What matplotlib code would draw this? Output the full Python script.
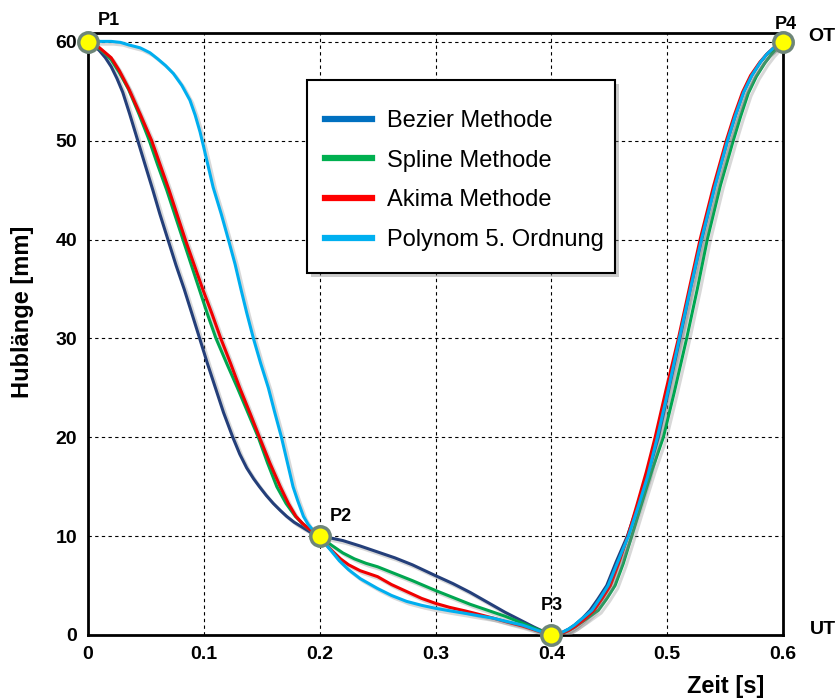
import matplotlib
matplotlib.use("Agg")
from matplotlib import pyplot as plt
from matplotlib.lines import Line2D
from matplotlib.patches import Rectangle
import matplotlib.patheffects as pe

plt.rcParams['font.family'] = ['Liberation Sans', 'DejaVu Sans']

# Stützpunkte P1..P4
punkte_x = [0.0, 0.2, 0.4, 0.6]
punkte_y = [60, 10, 0, 60]
punkte_namen = ['P1', 'P2', 'P3', 'P4']

# Bezier Methode
bezier_x = [0, 0.005, 0.01, 0.015, 0.02, 0.025, 0.03, 0.036, 0.043, 0.05, 0.056, 0.062, 0.069, 0.076, 0.083,
            0.09, 0.0964, 0.103, 0.11, 0.117, 0.125, 0.131, 0.137, 0.143, 0.148, 0.154, 0.16, 0.166, 0.1715,
            0.178, 0.185, 0.192, 0.2,
            0.21, 0.22, 0.235, 0.25, 0.265, 0.28, 0.3, 0.315, 0.33, 0.345, 0.36, 0.375, 0.385, 0.395, 0.4,
            0.405, 0.41, 0.415, 0.42, 0.427, 0.4334, 0.44, 0.4478, 0.456, 0.4656, 0.474, 0.483, 0.4924, 0.501,
            0.511, 0.52, 0.5298, 0.541, 0.552, 0.559, 0.5658, 0.573, 0.5802, 0.586, 0.592, 0.6]
bezier_y = [60, 59.7, 59.1, 58.4, 57.5, 56.3, 54.9, 52.7, 50, 47.3, 45, 42.6, 40, 37.4, 35,
            32.4, 30, 27.5, 25, 22.5, 20, 18.3, 16.9, 15.8, 15, 14.1, 13.3, 12.6, 12,
            11.4, 10.9, 10.4, 10,
            9.8, 9.55, 9.0, 8.4, 7.8, 7.1, 6.0, 5.2, 4.3, 3.3, 2.3, 1.4, 0.8, 0.25, 0,
            0.08, 0.3, 0.6, 1.0, 1.7, 2.5, 3.6, 5, 7.4, 10, 12.9, 16.1, 20, 24.6,
            30, 35, 40, 45.4, 50, 52.6, 54.9, 56.6, 57.9, 58.75, 59.4, 60]

# Spline Methode
spline_x = [0, 0.005, 0.01, 0.015, 0.02, 0.027, 0.035, 0.044, 0.053, 0.06, 0.068, 0.075, 0.082, 0.089, 0.096,
            0.103, 0.1105, 0.12, 0.129, 0.138, 0.147, 0.155, 0.163, 0.171, 0.179, 0.185, 0.19, 0.195, 0.2,
            0.21, 0.22, 0.23, 0.24, 0.25, 0.265, 0.28, 0.3, 0.315, 0.33, 0.345, 0.36, 0.375, 0.385, 0.395, 0.4,
            0.405, 0.41, 0.415, 0.42, 0.43, 0.4406, 0.448, 0.455, 0.462, 0.4694, 0.478, 0.487, 0.4967, 0.506,
            0.5168, 0.526, 0.5346, 0.546, 0.557, 0.5635, 0.570, 0.577, 0.5845, 0.59, 0.595, 0.6]
spline_y = [60, 59.8, 59.3, 58.8, 58.2, 56.9, 55.2, 52.7, 50, 47.6, 45, 42.5, 40, 37.5, 35,
            32.5, 30, 27.4, 25, 22.5, 20, 17.4, 15, 13.3, 12, 11.3, 10.8, 10.4, 10,
            9.1, 8.3, 7.7, 7.25, 6.9, 6.2, 5.5, 4.5, 3.8, 3.1, 2.5, 1.9, 1.2, 0.7, 0.25, 0,
            0.05, 0.2, 0.45, 0.8, 1.6, 2.5, 3.7, 5, 7.2, 10, 13.3, 16.7, 20, 24.5,
            30, 35, 40, 45.5, 50, 52.5, 54.8, 56.5, 57.9, 58.75, 59.4, 60]

# Akima Methode
akima_x = [0, 0.005, 0.01, 0.015, 0.02, 0.027, 0.035, 0.045, 0.055, 0.0625, 0.07, 0.077, 0.084, 0.0915, 0.099,
           0.107, 0.1146, 0.123, 0.131, 0.14, 0.148, 0.157, 0.166, 0.173, 0.1795, 0.185, 0.19, 0.195, 0.2,
           0.205, 0.21, 0.218, 0.225, 0.235, 0.25, 0.262, 0.275, 0.288, 0.3, 0.312, 0.325, 0.337, 0.35, 0.362,
           0.375, 0.387, 0.395, 0.4,
           0.405, 0.41, 0.415, 0.42, 0.428, 0.437, 0.444, 0.451, 0.458, 0.466, 0.474, 0.482, 0.4896, 0.499,
           0.5097, 0.519, 0.5284, 0.54, 0.551, 0.558, 0.565, 0.572, 0.58, 0.586, 0.592, 0.6]
akima_y = [60, 59.8, 59.4, 58.9, 58.4, 57.1, 55.3, 52.7, 50, 47.5, 45, 42.5, 40, 37.5, 35,
           32.5, 30, 27.5, 25, 22.4, 20, 17.4, 15, 13.3, 12, 11.3, 10.8, 10.4, 10,
           9.2, 8.6, 7.7, 7.1, 6.5, 5.9, 5.1, 4.4, 3.7, 3.2, 2.8, 2.45, 2.1, 1.7, 1.3,
           0.9, 0.45, 0.15, 0,
           0.05, 0.2, 0.45, 0.8, 1.5, 2.5, 3.7, 5, 7.2, 10, 13.2, 16.5, 20, 24.8,
           30, 35, 40, 45.4, 50, 52.6, 54.9, 56.6, 57.95, 58.75, 59.4, 60]

# Polynom 5. Ordnung
poly_x = [0, 0.01, 0.02, 0.028, 0.035, 0.045, 0.0535, 0.06, 0.067, 0.0737, 0.081, 0.088, 0.0925, 0.0967, 0.1,
          0.104, 0.108, 0.115, 0.1212, 0.127, 0.132, 0.137, 0.1428, 0.149, 0.1557, 0.161, 0.167, 0.172, 0.177,
          0.181, 0.186, 0.19, 0.195, 0.2,
          0.205, 0.21, 0.217, 0.225, 0.235, 0.25, 0.262, 0.275, 0.288, 0.3, 0.312, 0.325, 0.337, 0.35, 0.362,
          0.375, 0.387, 0.395, 0.4,
          0.405, 0.41, 0.415, 0.42, 0.427, 0.435, 0.442, 0.449, 0.457, 0.4665, 0.475, 0.483, 0.4915, 0.5005,
          0.5105, 0.52, 0.5295, 0.541, 0.552, 0.559, 0.566, 0.573, 0.5805, 0.586, 0.592, 0.6]
poly_y = [60, 60.05, 60.05, 59.95, 59.7, 59.4, 58.9, 58.3, 57.6, 56.8, 55.6, 54.1, 52.6, 50.9, 49.3,
          47.3, 45.3, 42.6, 40, 37.5, 35, 32.6, 30, 27.5, 25, 22.6, 20, 17.5, 15,
          13.6, 12, 11.2, 10.5, 10,
          9.2, 8.5, 7.5, 6.6, 5.7, 4.7, 4.0, 3.4, 3.0, 2.7, 2.45, 2.2, 1.95, 1.7, 1.35,
          1.0, 0.5, 0.18, 0,
          0.08, 0.3, 0.6, 1.0, 1.7, 2.5, 3.7, 5, 7.3, 10, 13, 16, 20, 24.6,
          30, 35, 40, 45.3, 50, 52.6, 54.9, 56.6, 57.95, 58.75, 59.4, 60]

namen = ['Bezier Methode', 'Spline Methode', 'Akima Methode', 'Polynom 5. Ordnung']
linien_farben = ['#243F7A', '#00A650', '#F00000', '#00AEEF']
legende_farben = ['#0070C0', '#00B050', '#FF0000', '#00B0F0']

fig = plt.figure(figsize=(8.38, 6.99), dpi=100)
ax = fig.add_axes([0.105, 0.0916, 0.8294, 0.8612])

schatten = [pe.SimpleLineShadow(offset=(2, -2), shadow_color='gray', alpha=0.3), pe.Normal()]
daten = [(poly_x, poly_y, 3), (spline_x, spline_y, 1), (akima_x, akima_y, 2), (bezier_x, bezier_y, 0)]
for xs, ys, k in daten:
    ax.plot(xs, ys, color=linien_farben[k], lw=2.2, path_effects=schatten, zorder=3 + k * 0.1,
            solid_joinstyle='round')

ax.plot(punkte_x, punkte_y, 'o', ms=14, mfc='#FFFF00', mec='#6E8679', mew=2.5, zorder=10, clip_on=False)
# Beschriftung der Punkte
text_pos = [(0.0086, 61.7, 'left'), (0.209, 11.5, 'left'), (0.4, 2.5, 'center'), (0.602, 61.3, 'center')]
for (tx, ty, ha), n in zip(text_pos, punkte_namen):
    ax.text(tx, ty, n, fontsize=13, fontweight='bold', ha=ha, va='baseline', zorder=11, clip_on=False)

ax.set_xlim(0, 0.6)
ax.set_ylim(0, 60.9)
ax.set_xticks([0, 0.1, 0.2, 0.3, 0.4, 0.5, 0.6])
ax.set_xticklabels(['0', '0.1', '0.2', '0.3', '0.4', '0.5', '0.6'])
ax.set_yticks([0, 10, 20, 30, 40, 50, 60])
ax.tick_params(length=0, labelsize=14, pad=8)
for lab in ax.get_xticklabels() + ax.get_yticklabels():
    lab.set_fontweight('bold')
ax.grid(True, color='black', linestyle=(0, (3, 3)), lw=0.8)
for s in ax.spines.values():
    s.set_linewidth(2)

fig.text(0.0274, 0.554, 'Hublänge [mm]', rotation=90, fontsize=17, fontweight='bold', ha='center', va='center')
fig.text(0.866, 0.0172, 'Zeit [s]', fontsize=17, fontweight='bold', ha='center', va='center')
fig.text(0.964, 0.948, 'OT', fontsize=14, fontweight='bold', ha='left', va='center')
fig.text(0.967, 0.099, 'UT', fontsize=14, fontweight='bold', ha='left', va='center')

# Legendenrahmen separat, damit Breite und Hoehe wie im Original sind
rahmen = Rectangle((0.3151, 0.6013), 0.4432, 0.3206, transform=ax.transAxes, facecolor='white',
                   edgecolor='black', lw=1.5, zorder=19,
                   path_effects=[pe.SimplePatchShadow(offset=(3, -3), shadow_rgbFace='gray', alpha=0.4), pe.Normal()])
ax.add_patch(rahmen)
handles = [Line2D([], [], color=c, lw=4.5) for c in legende_farben]
leg = ax.legend(handles, namen, loc='upper left', bbox_to_anchor=(0.341, 0.872), fontsize=17,
                frameon=False, borderpad=0, labelspacing=0.75,
                handlelength=2.0, handletextpad=0.64, borderaxespad=0)
leg.set_zorder(20)

fig.savefig('out.png', dpi=100)
